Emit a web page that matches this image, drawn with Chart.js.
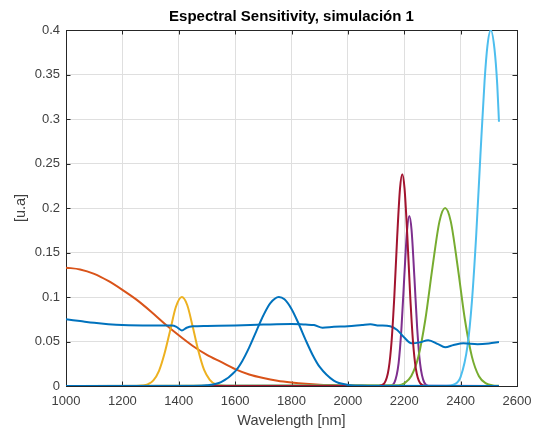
<!DOCTYPE html>
<html>
<head>
<meta charset="utf-8">
<script src="https://cdn.jsdelivr.net/npm/chart.js@4.4.0/dist/chart.umd.min.js"></script>
<style>
  html, body { margin: 0; padding: 0; background: #fff; }
  #wrap { width: 537px; height: 430px; }
</style>
</head>
<body>
<div id="wrap"><canvas id="spectral"></canvas></div>
<script>
// axis ticks
var xTicks = [1000, 1200, 1400, 1600, 1800, 2000, 2200, 2400, 2600];
var yTicks = [0, 0.05, 0.1, 0.15, 0.2, 0.25, 0.3, 0.35, 0.4];

// band centred near 1750 nm
var b1750Nm  = [1000, 1450, 1500, 1550, 1600, 1625, 1650, 1675, 1700, 1725, 1755, 1775, 1800, 1825, 1850, 1875, 1900, 1950, 2000, 2050, 2100, 2536];
var b1750Val = [0, 0.0001, 0.0008, 0.0043, 0.0164, 0.0279, 0.0434, 0.0614, 0.0792, 0.0931, 0.1, 0.0974, 0.0866, 0.0702, 0.0518, 0.0349, 0.0214, 0.0061, 0.0012, 0.0002, 0, 0];

// falling band from 1000 nm
var b1000Nm  = [1000, 1050, 1100, 1150, 1200, 1250, 1300, 1350, 1400, 1450, 1500, 1550, 1600, 1650, 1700, 1750, 1800, 1850, 1900, 1950, 2000, 2050, 2100, 2536];
var b1000Val = [0.133, 0.131, 0.126, 0.118, 0.108, 0.097, 0.084, 0.070, 0.057, 0.045, 0.035, 0.027, 0.019, 0.013, 0.009, 0.006, 0.004, 0.0025, 0.0015, 0.001, 0.0005, 0.0002, 0, 0];

// band near 1410 nm
var b1410Nm  = [1000, 1250, 1270, 1290, 1310, 1330, 1350, 1370, 1390, 1411, 1430, 1450, 1470, 1490, 1510, 1530, 1550, 1570, 2536];
var b1410Val = [0, 0.0001, 0.0005, 0.0019, 0.0063, 0.017, 0.037, 0.063, 0.089, 0.1, 0.091, 0.066, 0.039, 0.018, 0.007, 0.002, 0.0005, 0.0001, 0];

// band near 2218 nm
var b2218Nm  = [1000, 2150, 2165, 2180, 2190, 2200, 2210, 2218, 2226, 2236, 2246, 2256, 2271, 2286, 2536];
var b2218Val = [0, 0.0003, 0.0039, 0.0258, 0.0644, 0.122, 0.175, 0.191, 0.175, 0.122, 0.0644, 0.0258, 0.0039, 0.0003, 0];

// band near 2345 nm
var b2345Nm  = [1000, 2180, 2200, 2225, 2250, 2275, 2300, 2325, 2345, 2365, 2390, 2415, 2440, 2465, 2490, 2515, 2536];
var b2345Val = [0, 0.0009, 0.003, 0.0112, 0.0329, 0.075, 0.133, 0.185, 0.2, 0.185, 0.133, 0.075, 0.033, 0.011, 0.003, 0.0006, 0.0002];

// band near 2507 nm (cut at the end of the range)
var b2507Nm  = [1000, 2350, 2375, 2400, 2425, 2440, 2455, 2470, 2485, 2495, 2507, 2520, 2530, 2536];
var b2507Val = [0, 0.0002, 0.0015, 0.0102, 0.0464, 0.0948, 0.168, 0.258, 0.343, 0.382, 0.4, 0.379, 0.338, 0.297];

// band near 2193 nm
var b2193Nm  = [1000, 2110, 2130, 2145, 2155, 2165, 2175, 2185, 2193, 2201, 2211, 2221, 2231, 2241, 2256, 2276, 2536];
var b2193Val = [0, 0.0001, 0.0033, 0.0197, 0.050, 0.102, 0.168, 0.222, 0.238, 0.222, 0.168, 0.102, 0.050, 0.0197, 0.0033, 0.0001, 0];

// reference sensor curve
var sensorNm  = [1000, 1050, 1100, 1150, 1200, 1300, 1375, 1392, 1411, 1428, 1450, 1500, 1600, 1700, 1800, 1850, 1880, 1910, 1950, 2000, 2050, 2080, 2110, 2150, 2175, 2200, 2225, 2255, 2285, 2320, 2345, 2375, 2410, 2460, 2500, 2536];
var sensorVal = [0.075, 0.073, 0.071, 0.0695, 0.0685, 0.068, 0.068, 0.0665, 0.0625, 0.0655, 0.067, 0.0675, 0.068, 0.069, 0.0697, 0.069, 0.0685, 0.0655, 0.0665, 0.067, 0.0685, 0.0693, 0.068, 0.0672, 0.063, 0.0545, 0.048, 0.049, 0.0515, 0.047, 0.0435, 0.046, 0.048, 0.047, 0.0478, 0.0494];

function pts(nm, val) {
  return nm.map(function (x, i) { return { x: x, y: val[i] }; });
}

function curve(nm, val, color) {
  return {
    data: pts(nm, val),
    borderColor: color,
    borderWidth: 2,
    pointRadius: 0,
    fill: false,
    cubicInterpolationMode: 'monotone'
  };
}

// box round the plot area with inward tick marks
var axesBox = {
  id: 'axesBox',
  beforeDatasetsDraw: function (chart) {
    var a = chart.chartArea, ctx = chart.ctx;
    var xs = chart.scales.x, ys = chart.scales.y;
    var tl = 4.5;
    ctx.save();
    ctx.strokeStyle = '#262626';
    ctx.lineWidth = 1;
    ctx.beginPath();
    xTicks.forEach(function (v) {
      var px = Math.round(xs.getPixelForValue(v)) + 0.5;
      ctx.moveTo(px, a.bottom); ctx.lineTo(px, a.bottom - tl);
      ctx.moveTo(px, a.top); ctx.lineTo(px, a.top + tl);
    });
    yTicks.forEach(function (v) {
      var py = Math.round(ys.getPixelForValue(v)) + 0.5;
      ctx.moveTo(a.left, py); ctx.lineTo(a.left + tl, py);
      ctx.moveTo(a.right, py); ctx.lineTo(a.right - tl, py);
    });
    ctx.stroke();
    ctx.strokeRect(Math.round(a.left) + 0.5, Math.round(a.top) + 0.5,
                   Math.round(a.right) - Math.round(a.left), Math.round(a.bottom) - Math.round(a.top));
    ctx.restore();
  }
};

Chart.defaults.font.family = '"Liberation Sans", Arial, Helvetica, sans-serif';
Chart.defaults.color = '#404040';

var ctx = document.getElementById('spectral').getContext('2d');
var spectral = new Chart(ctx, {
  type: 'line',
  data: {
    // first dataset is painted last, so it sits on top
    datasets: [
      curve(b1750Nm, b1750Val, '#0072BD'),
      curve(b2193Nm, b2193Val, '#A2142F'),
      curve(sensorNm, sensorVal, '#0072BD'),
      curve(b2507Nm, b2507Val, '#4DBEEE'),
      curve(b2345Nm, b2345Val, '#77AC30'),
      curve(b2218Nm, b2218Val, '#7E2F8E'),
      curve(b1410Nm, b1410Val, '#EDB120'),
      curve(b1000Nm, b1000Val, '#D95319')
    ]
  },
  options: {
    responsive: true,
    maintainAspectRatio: false,
    animation: false,
    devicePixelRatio: 1,
    layout: { padding: { left: 0, right: 20, top: 0, bottom: 0 } },
    plugins: {
      legend: { display: false },
      tooltip: { enabled: false },
      title: {
        display: true,
        text: 'Espectral Sensitivity, simulación 1',
        color: '#000',
        fullSize: false,
        font: { size: 15, weight: 'bold' },
        padding: { top: 8, bottom: 4 }
      }
    },
    scales: {
      x: {
        type: 'linear',
        min: 1000,
        max: 2600,
        afterBuildTicks: function (s) { s.ticks = xTicks.map(function (v) { return { value: v }; }); },
        afterFit: function (s) { s.height = 44; s.paddingLeft = 0; s.paddingRight = 0; },
        ticks: { font: { size: 13 }, padding: 8, maxRotation: 0, callback: function (v) { return String(v); } },
        grid: { color: '#dfdfdf', drawTicks: false },
        border: { display: false },
        title: { display: true, text: 'Wavelength [nm]', font: { size: 14.5 }, padding: { top: 0, bottom: 0 } }
      },
      y: {
        type: 'linear',
        min: 0,
        max: 0.4,
        afterBuildTicks: function (s) { s.ticks = yTicks.map(function (v) { return { value: v }; }); },
        afterFit: function (s) { s.width = 66; s.paddingTop = 0; s.paddingBottom = 0; },
        ticks: { font: { size: 13 }, padding: 6, callback: function (v) { return String(v); } },
        grid: { color: '#dfdfdf', drawTicks: false },
        border: { display: false },
        title: { display: true, text: '[u.a]', font: { size: 14.5 }, padding: { top: 12, bottom: 0 } }
      }
    }
  },
  plugins: [axesBox]
});
</script>
</body>
</html>
